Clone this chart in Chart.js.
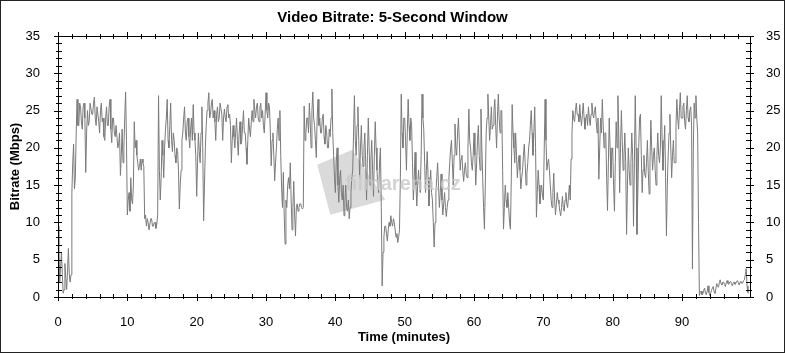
<!DOCTYPE html>
<html lang="en">
<head>
<meta charset="UTF-8">
<title>Video Bitrate</title>
<script src="https://cdn.jsdelivr.net/npm/chart.js@4"></script>
<style>
  html, body { margin: 0; padding: 0; background: #fff; }
  #wrap { width: 785px; height: 353px; }
</style>
</head>
<body>
<div id="wrap"><canvas id="cv" width="785" height="353"></canvas></div>
<script>
// sample spacing of the series (minutes)
var stepMin = 0.125;

// bitrate in Mbps, eight samples per minute
var rate00 = [9.5,7,2,4,6,3,0.5,1, 4.5,2.5,1,3.5,6.5,3,2,3, 14,18,20.5,14.5,16,22,26.5,23,
  23,26,25.5,23.5,22.5,25.5,26,24, 16.7,22,25,23,23.5,26,26,24.5, 24.5,26,26.8,24,23,25.5,25.5,23.5,
  22,25,26,23.5,24,21.5,21,24, 25.5,23,23,25.5,26.5,22.5,20.7,24, 24,22,21.5,23,23,20,20.5,22,
  16.3,19,22.5,18,20,24,27.5,21];
var rate10 = [11,13,14,11.5,16,13,12.5,15, 23.5,20,21,19,18,17,17.5,18.5, 17,18.5,18,17.5,10.5,11,9.5,10.5,
  10,9,9,10.5,10.5,9.5,9.5,10, 10,9.2,9.8,11,27,17,13,16, 21,19,16,20,22.5,24,26.5,21,
  20,23,26,21,19.5,22,21,19, 18,20,19.5,17,11.8,15,17,21, 22,24,25.5,22,21,23.5,24,21.5,
  20,22.5,24,21,25.8,22,21,19];
var rate20 = [13.5,18,22,19.5,18,22,25.5,20, 10.2,15,20,23,25,26,27.4,24, 24.5,26,26.5,24,25,23.5,21,24.5,
  25.5,23.5,24,26,26,24.5,21,24, 25.2,24,23.5,25.5,25.8,24,24.5,23, 18,21,23,21.5,20,22,24,21,
  19,22,23.5,20.5,21,23,25,22, 22,20,17.8,21,24,22.5,21.5,23.5, 25,23.5,26.5,25,24,25.5,26,24,
  23.5,25.5,26,24,25,23,22,24.5];
var rate30 = [27.4,25,24,26,25.5,22,17.6,21, 22,19,15.6,18,20,22.5,24,21, 25,19,14.5,12,16.7,11,7.1,13,
  12,15,16,14.5,18,13,9,12, 15.5,11,8.2,12,12.5,11.5,12,12.5, 12.5,12,11.8,12,25.6,21,22,24,
  24,22,26,23.5,20,25,27.5,24, 23,21,18.7,24,26.5,23,24,22, 22,24,24.5,21.5,20.5,23,22,20,
  20,22.5,21.5,24,27.9,22,19,16];
var rate40 = [14,18,20,15,12.7,16,17,14, 13,15,10.9,13,15,12,11.5,13, 10.5,12,14,16,17,22,27,21,
  19,23,25.5,21,16,20,23,19, 17.5,20,22,18,13,19,24,20, 15,18.5,21,17,13.5,19,23.5,20,
  17,15,14,18,20,12,1.5,6, 8,9.5,9.5,8.5,7.5,9,10,9.5, 10.9,10,9.5,10.5,10,9,8,8.5,
  7.3,8,9,16,27.2,22,20,24];
var rate50 = [24,21,17,22,26.5,23,21,24, 23,18,13,16,19.4,15,12.2,15, 17,15,14,19,27.2,24,22.5,18,
  14,17,19.5,16,12.2,15,17,14, 13,10,6.7,10,14,16,18,15, 12,14,16.5,13,11,12.5,14,12,
  10.8,12,13,16,18,20,21,18, 15,19,23.2,20,19,22,24,21, 17,18.5,19,17,15.5,17,18,16.5,
  16,20,25.2,21,20,18,17,19];
var rate60 = [22,19,15,18,21,23,19,17, 25.2,20,16,12,9.1,15,22,24, 27.2,24,21,23,25.5,22.5,23,25,
  26.5,23,20,24,27.2,24,22,25, 25,17,9.1,12,15,13,12,14, 12,10,9.1,16,25.8,22,20,18,
  22,19,16,18,19,17,14.5,16, 17,19,20.5,18,15,16.5,18,20, 21,23,25,22,19,22,25.5,20,
  10.7,14,17,15,12.5,14,15,13.5];
var rate70 = [13,20,26.5,21,17,18,18.5,17, 15,13,12,14,16.6,13,11,12.5, 14,13,12.5,11.5,10.9,12,13.5,12,
  11.5,13,14,12.5,12,13.5,15,13, 18.5,22,25,24,23.5,25,26,24.5, 24.5,23.5,25.8,24,23,24.5,26,24,
  22.5,24,24.5,23,25.5,24,23,24.5, 26,24.5,24,25,25.5,23.5,22,24, 15.8,20,24,22,26.5,23,20,22,
  22,16,11.6,18,24,20,16,19];
var rate80 = [20,15,11.5,18,23.5,20,27,22, 14,20,25,21,17,19,22,18, 8.4,15,20,17,15,18,22,19,
  9.5,18,27,20,8.4,14,20,24, 24.5,19,14,17,19,16.5,16,18, 21,17,13.8,18,23.7,20,17,19,
  20,17,15,19,22,19,18,20, 27,21,17,20,23,16,8.2,15, 19,22,24.5,20,16,19,21,18,
  18,23,26.5,24,22.5,25,27.4,24];
var rate90 = [24,25.5,26,23.5,22.5,25,27,24, 23.5,25,25.5,23,3.75,20,26,24, 27,24,22,10,0.2,0.6,0.8,0.3,
  0.4,0.9,1.2,0.5,0.3,0.8,1.5,0.6, 0.2,0.5,0.9,1.2,1.4,0.7,0.5,1.1, 1.8,1.5,1.3,1.9,2.3,1.8,1.6,2.0,
  2.0,1.7,1.4,1.9,2.2,1.8,1.7,2.0, 2.1,1.8,1.5,1.9,2.0,1.7,1.8,2.1, 2.2,1.9,1.6,2.0,2.1,1.8,1.9,2.2,
  2.3,3.0,3.8,1.5,0.6,0.5];

var xTickLabels = [0, 10, 20, 30, 40, 50, 60, 70, 80, 90];
var yTickLabels = [0, 5, 10, 15, 20, 25, 30, 35];

var rates = [].concat(rate00, rate10, rate20, rate30, rate40, rate50, rate60, rate70, rate80, rate90);
var points = rates.map(function (v, i) { return { x: i * stepMin, y: v }; });

var FONT = "'Liberation Sans Narrow', 'Arial Narrow', 'Liberation Sans', Arial, sans-serif";

// box, tick marks, watermark and outer frame
var frame = {
  id: 'frame',
  beforeDatasetsDraw: function (chart) {
    var c = chart.ctx, a = chart.chartArea;
    var cx = a.left + (a.right - a.left) * 0.405, cy = a.top + (a.bottom - a.top) * 0.57;
    c.save();
    c.fillStyle = 'rgba(214,214,214,0.9)';
    c.beginPath();
    c.moveTo(cx - 21, cy - 20); c.lineTo(cx + 14, cy - 35);
    c.lineTo(cx + 47, cy + 15); c.lineTo(cx - 8, cy + 30);
    c.closePath(); c.fill();
    c.restore();
  },
  afterDatasetsDraw: function (chart) {
    var c = chart.ctx, a = chart.chartArea;
    var xs = chart.scales.x, ys = chart.scales.y;
    c.save();
    c.font = "bold 20px 'Liberation Sans', Arial, sans-serif";
    c.fillStyle = 'rgba(200,200,200,0.8)';
    c.textBaseline = 'middle';
    c.fillText('filmarena.cz', a.left + (a.right - a.left) * 0.415, a.top + (a.bottom - a.top) * 0.57);

    c.strokeStyle = '#000';
    c.lineWidth = 1;
    c.strokeRect(Math.round(a.left) + 0.5, Math.round(a.top) + 0.5,
                 Math.round(a.right - a.left), Math.round(a.bottom - a.top));
    c.beginPath();
    var t, px, len;
    for (t = 0; t <= 98; t += 2) {
      px = Math.round(xs.getPixelForValue(t)) + 0.5;
      len = t % 10 === 0 ? 5 : 3;
      c.moveTo(px, a.bottom - 3); c.lineTo(px, a.bottom + len - 1);
      c.moveTo(px, a.top + 3); c.lineTo(px, a.top - len + 1);
    }
    for (t = 0; t <= 35; t += 1) {
      px = Math.round(ys.getPixelForValue(t)) + 0.5;
      len = t % 5 === 0 ? 5 : 3;
      c.moveTo(a.left - len + 1, px); c.lineTo(a.left + 4, px);
      c.moveTo(a.right + len - 1, px); c.lineTo(a.right - 4, px);
    }
    c.stroke();
    c.strokeStyle = '#222';
    c.strokeRect(0.5, 0.5, chart.width - 1, chart.height - 1);
    c.restore();
  }
};

new Chart(document.getElementById('cv'), {
  type: 'line',
  data: {
    datasets: [{
      label: 'Bitrate',
      data: points,
      borderColor: '#7a7a7a',
      borderWidth: 1,
      pointRadius: 0,
      tension: 0,
      fill: false
    }]
  },
  options: {
    responsive: false,
    animation: false,
    parsing: false,
    layout: { padding: 0 },
    plugins: {
      legend: { display: false },
      tooltip: { enabled: false },
      title: {
        display: true,
        text: 'Video Bitrate: 5-Second Window',
        color: '#000',
        font: { family: FONT, size: 15, weight: 'bold' },
        padding: { top: 9, bottom: 9 }
      }
    },
    scales: {
      x: {
        type: 'linear',
        min: 0,
        max: 99.8,
        grid: { display: false },
        border: { display: false },
        ticks: {
          stepSize: 10,
          includeBounds: false,
          padding: 10,
          color: '#000',
          font: { family: FONT, size: 13 },
          maxRotation: 0,
          callback: function (v) { return xTickLabels.indexOf(v) >= 0 ? String(v) : ''; }
        },
        title: {
          display: true,
          text: 'Time (minutes)',
          color: '#000',
          font: { family: FONT, size: 13, weight: 'bold' },
          padding: { top: 0, bottom: 8 }
        },
        afterFit: function (s) { s.height = 56; }
      },
      y: {
        position: 'left',
        min: 0,
        max: 35,
        grid: { display: false },
        border: { display: false },
        ticks: {
          stepSize: 5,
          padding: 10,
          color: '#000',
          font: { family: FONT, size: 13 },
          callback: function (v) { return yTickLabels.indexOf(v) >= 0 ? String(v) : ''; }
        },
        title: {
          display: true,
          text: 'Bitrate (Mbps)',
          color: '#000',
          font: { family: FONT, size: 13, weight: 'bold' },
          padding: { top: 8, bottom: 0 }
        },
        afterFit: function (s) { s.width = 58; }
      },
      y2: {
        position: 'right',
        min: 0,
        max: 35,
        grid: { display: false },
        border: { display: false },
        ticks: {
          stepSize: 5,
          padding: 8,
          color: '#000',
          font: { family: FONT, size: 13 },
          callback: function (v) { return yTickLabels.indexOf(v) >= 0 ? String(v) : ''; }
        },
        afterFit: function (s) { s.width = 35; }
      }
    }
  },
  plugins: [frame]
});
</script>
</body>
</html>
